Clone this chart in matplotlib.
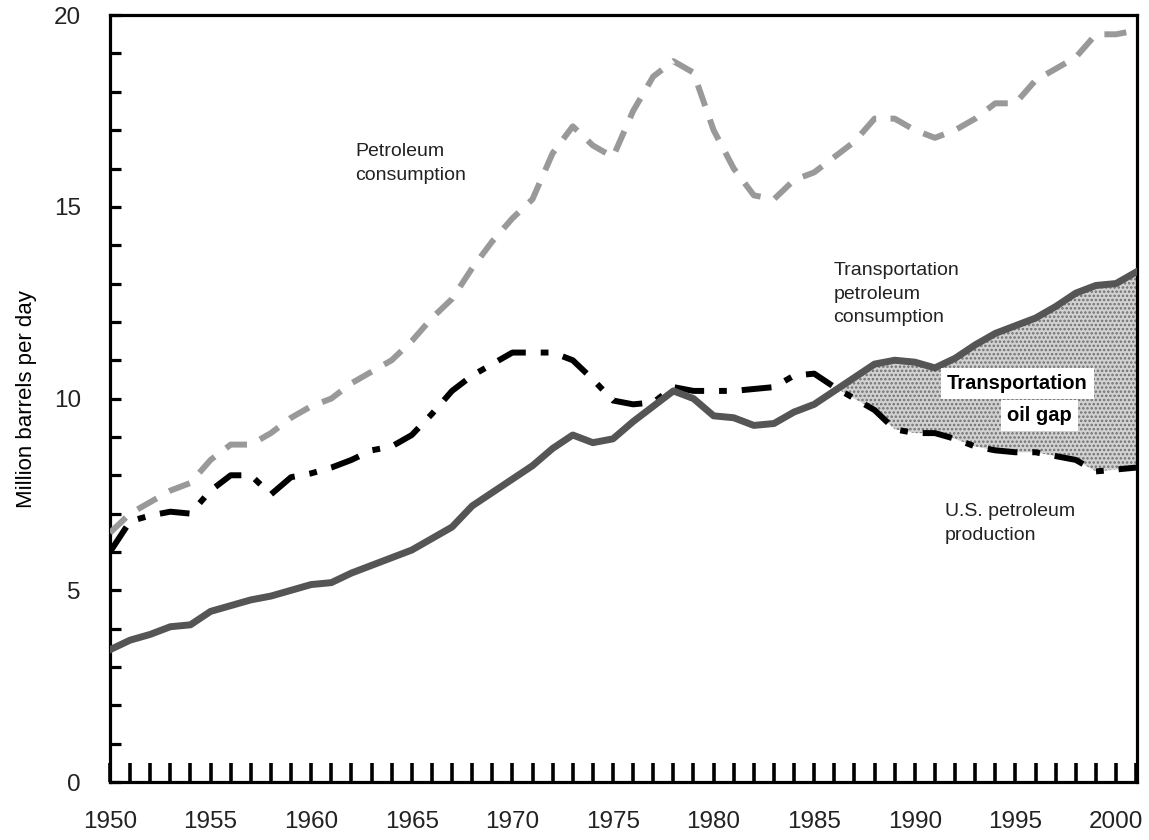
import numpy as np
import matplotlib
matplotlib.use("Agg")
import matplotlib.pyplot as plt
from matplotlib.ticker import MultipleLocator

plt.rcParams["font.family"] = ["Liberation Sans", "DejaVu Sans"]

# Valores (milhões de barris por dia)
years = np.arange(1950, 2002)
consumption = [6.5, 7.0, 7.3, 7.6, 7.8, 8.4, 8.8, 8.8, 9.1, 9.5,
               9.8, 10.0, 10.4, 10.7, 11.0, 11.5, 12.1, 12.6, 13.4, 14.1,
               14.7, 15.2, 16.4, 17.1, 16.6, 16.3, 17.5, 18.4, 18.8, 18.5,
               17.0, 16.0, 15.3, 15.2, 15.7, 15.9, 16.3, 16.7, 17.3, 17.3,
               17.0, 16.8, 17.0, 17.3, 17.7, 17.7, 18.3, 18.6, 18.9, 19.5,
               19.5, 19.6]
production = [6.0, 6.8, 6.95, 7.05, 7.0, 7.6, 8.0, 8.0, 7.5, 7.95,
              8.05, 8.2, 8.4, 8.65, 8.75, 9.05, 9.6, 10.2, 10.6, 10.9,
              11.2, 11.2, 11.2, 11.0, 10.5, 9.95, 9.85, 9.9, 10.3, 10.2,
              10.2, 10.2, 10.25, 10.3, 10.6, 10.65, 10.3, 10.0, 9.7, 9.2,
              9.1, 9.1, 8.95, 8.75, 8.65, 8.6, 8.6, 8.5, 8.4, 8.1,
              8.15, 8.2]
transport = [3.45, 3.7, 3.85, 4.05, 4.1, 4.45, 4.6, 4.75, 4.85, 5.0,
             5.15, 5.2, 5.45, 5.65, 5.85, 6.05, 6.35, 6.65, 7.2, 7.55,
             7.9, 8.25, 8.7, 9.05, 8.85, 8.95, 9.4, 9.8, 10.2, 10.0,
             9.55, 9.5, 9.3, 9.35, 9.65, 9.85, 10.2, 10.55, 10.9, 11.0,
             10.95, 10.8, 11.05, 11.4, 11.7, 11.9, 12.1, 12.4, 12.75, 12.95,
             13.0, 13.3]

year_labels = [1950, 1955, 1960, 1965, 1970, 1975, 1980, 1985, 1990, 1995, 2000]

prod = np.array(production)
trans = np.array(transport)

fig = plt.figure(figsize=(11.49, 8.4), dpi=100)
ax = fig.add_axes([0.0957, 0.069, 0.894, 0.913])

# área do "oil gap" (pontilhado)
plt.rcParams["hatch.linewidth"] = 1.2
ax.fill_between(years, prod, trans, where=(trans >= prod) & (years >= 1984),
                interpolate=True, facecolor="#d2d2d2", edgecolor="#707070",
                hatch="....", linewidth=0, zorder=1)

ax.plot(years, consumption, color="#999999", lw=4.3, dashes=(3.7, 2.4),
        zorder=3)
ax.plot(years, production, color="black", lw=4.3, dashes=(5, 2.5, 1.3, 2.5),
        zorder=3)
ax.plot(years, transport, color="#555555", lw=5, solid_joinstyle="round",
        zorder=4)

ax.set_xlim(1950, 2001.05)
ax.set_ylim(0, 20)

for s in ax.spines.values():
    s.set_linewidth(2.3)

ax.set_xticks(year_labels)
ax.xaxis.set_minor_locator(MultipleLocator(1))
ax.yaxis.set_major_locator(MultipleLocator(5))
ax.yaxis.set_minor_locator(MultipleLocator(1))
ax.tick_params(axis="x", which="both", direction="in", length=14, width=2.6,
               pad=21, labelsize=17.5)
ax.tick_params(axis="y", which="both", direction="in", length=8, width=2.3,
               pad=21, labelsize=17.5)
for lab in ax.get_xticklabels() + ax.get_yticklabels():
    lab.set_color("#222222")

ax.set_ylabel("Million barrels per day", fontsize=16, labelpad=12)

txt = dict(fontsize=14, color="#222222", va="top", linespacing=1.5)
ax.text(1962.2, 16.66, "Petroleum\nconsumption", **txt)
ax.text(1985.95, 13.56, "Transportation\npetroleum\nconsumption", **txt)
ax.text(1991.5, 7.27, "U.S. petroleum\nproduction", **txt)

box = dict(boxstyle="square,pad=0.3", facecolor="white", edgecolor="none")
ax.text(1995.1, 10.4, "Transportation", fontsize=14.5, fontweight="bold",
        ha="center", va="center", bbox=box, zorder=5)
ax.text(1996.2, 9.57, "oil gap", fontsize=14.5, fontweight="bold",
        ha="center", va="center", bbox=box, zorder=5)

fig.savefig("out.png", dpi=100)
